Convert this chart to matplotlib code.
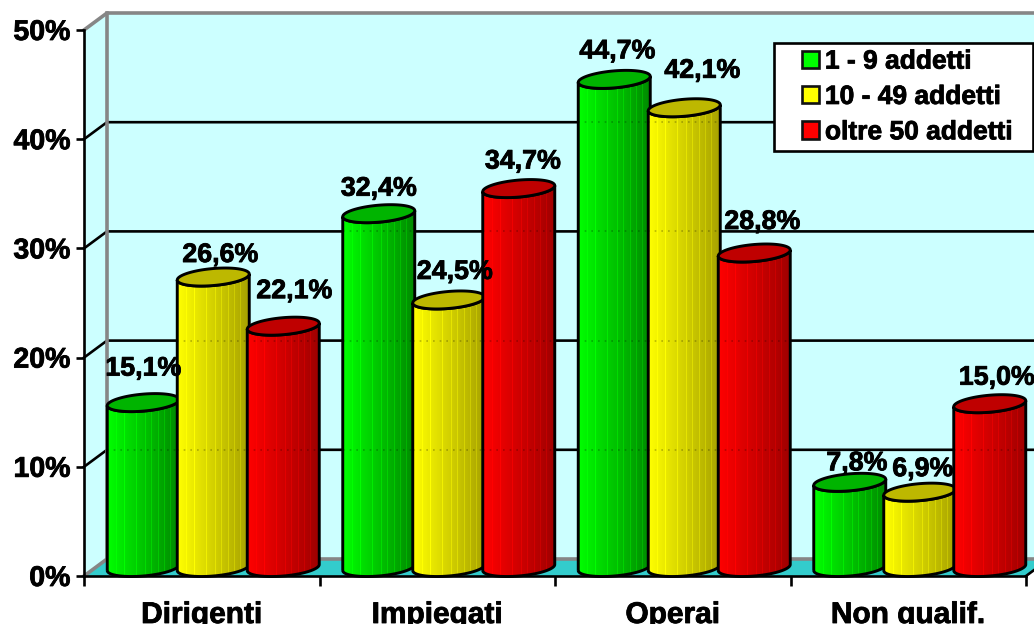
import numpy as np
import matplotlib
matplotlib.use("Agg")
import matplotlib.pyplot as plt
import matplotlib.patheffects as pe
from matplotlib.colors import LinearSegmentedColormap
from matplotlib.legend_handler import HandlerPatch
from matplotlib.patches import Patch, PathPatch, Polygon, Rectangle
from matplotlib.path import Path

plt.rcParams["font.family"] = ["Liberation Sans", "DejaVu Sans"]
plt.rcParams["font.weight"] = "bold"

categories = ["Dirigenti", "Impiegati", "Operai", "Non qualif."]
series_names = ["1 - 9 addetti", "10 - 49 addetti", "oltre 50 addetti"]
small = [15.1, 32.4, 44.7, 7.8]
medium = [26.6, 24.5, 42.1, 6.9]
large = [22.1, 34.7, 28.8, 15.0]
small_text = ["15,1%", "32,4%", "44,7%", "7,8%"]
medium_text = ["26,6%", "24,5%", "42,1%", "6,9%"]
large_text = ["22,1%", "34,7%", "28,8%", "15,0%"]
y_ticks = [0, 10, 20, 30, 40, 50]

# pixel offsets of the value labels from the top of each cylinder
label_dx = [[0, 0, 3, 7], [7, 6, 18, 3], [11, 4, 8, 7]]
label_dy = [[34, 25, 28, 19], [22, 28, 37, 23], [35, 27, 31, 26]]

colors = [("#00FF00", "#008A00", "#00B400"),
          ("#FFFF00", "#A8A300", "#BDB800"),
          ("#FF0000", "#A00000", "#BF0000")]
legend_colors = ["#00FF00", "#FFFF00", "#FF0000"]

W, H = 1034, 624
x0, y0 = 84, 576
px_x = 235.5        # pixels per category
px_y = 10.92        # pixels per percent
depth_x = 23 / px_x
depth_y = 17 / px_y
half_w = 36 / px_x
step = 70 / px_x
ell_b = 8.5 / px_y
ell_s = 3 / px_y
heavy = [pe.withStroke(linewidth=0.6, foreground="black")]

fig = plt.figure(figsize=(W / 100, H / 100), dpi=100)
ax = fig.add_axes([x0 / W, (H - y0) / H, (W - x0) / W, 546 / H])
ax.patch.set_visible(False)
xmax = (W - x0) / px_x

# walls and floor
wall = "#CCFFFF"
ax.add_patch(Polygon([(depth_x, depth_y), (xmax + 1, depth_y), (xmax + 1, 50 + depth_y), (depth_x, 50 + depth_y)],
                     fc=wall, ec="none", clip_on=False, zorder=0))
ax.add_patch(Polygon([(0, 0), (depth_x, depth_y), (depth_x, 50 + depth_y), (0, 50)],
                     fc=wall, ec="none", clip_on=False, zorder=0))
ax.add_patch(Polygon([(0, 0), (depth_x, depth_y), (4 + depth_x, depth_y), (4, 0)],
                     fc="#33CCCC", ec="none", clip_on=False, zorder=1))
for t in y_ticks[1:-1]:
    ax.plot([0, depth_x, xmax], [t, t + depth_y, t + depth_y], color="k", lw=1.9, zorder=1, clip_on=False,
            solid_joinstyle="miter")
gray = "#868686"
ax.plot([0, depth_x, xmax], [50, 50 + depth_y, 50 + depth_y], color=gray, lw=2.6, zorder=2, clip_on=False)
ax.plot([depth_x, depth_x], [depth_y, 50 + depth_y], color=gray, lw=2.6, zorder=2, clip_on=False)
ax.plot([0, depth_x, xmax], [0, depth_y, depth_y], color=gray, lw=2.6, zorder=2, clip_on=False)
ax.plot([4, 4 + depth_x], [0, depth_y], color="k", lw=1.9, zorder=2, clip_on=False)


def cylinder(cx, top, shades, z):
    base = depth_y / 2
    t = np.linspace(np.pi, 2 * np.pi, 60)
    ex = cx + half_w * np.cos(t)
    front = ell_b * np.sin(t) + ell_s * np.cos(t)
    low = np.column_stack([ex, base + front])
    high = np.column_stack([ex[::-1], top + front[::-1]])
    verts = np.vstack([low, high, low[:1]])
    body = Path(verts)
    cmap = LinearSegmentedColormap.from_list("c", [shades[0], shades[1]])
    shade = np.linspace(0, 1, 72)
    shade[[9, 17, 29, 38, 44, 51, 57, 63]] -= 0.25
    img = ax.imshow(np.clip(shade, 0, 1)[None, :], cmap=cmap, vmin=0, vmax=1, aspect="auto",
                    interpolation="nearest", extent=(cx - half_w, cx + half_w, 0, top + 2), zorder=z, clip_on=True)
    outline = PathPatch(body, fc="none", ec="k", lw=2.1, zorder=z + 0.2, clip_on=False)
    ax.add_patch(outline)
    img.set_clip_path(outline)
    for level in y_ticks[1:-1]:
        if level + depth_y < top:
            line, = ax.plot([cx - half_w, cx + half_w], [level + depth_y] * 2, color="k", lw=1.2, alpha=0.25,
                            ls=(0, (1, 3)), zorder=z + 0.1, clip_on=True)
            line.set_clip_path(outline)
    t2 = np.linspace(0, 2 * np.pi, 120)
    lid = np.column_stack([cx + half_w * np.cos(t2), top + ell_b * np.sin(t2) + ell_s * np.cos(t2)])
    ax.add_patch(Polygon(lid, fc=shades[2], ec="k", lw=2.1, zorder=z + 0.3, clip_on=False))


values = [small, medium, large]
texts = [small_text, medium_text, large_text]
for s in range(3):
    for c in range(4):
        cx = c + 0.5 + depth_x / 2 + (s - 1) * step
        top = values[s][c] + depth_y / 2
        cylinder(cx, top, colors[s], 3 + c * 3 + s)
        ax.annotate(texts[s][c], (cx, top), xytext=(label_dx[s][c] * 0.72, label_dy[s][c] * 0.72),
                    textcoords="offset points", ha="center", va="center", fontsize=19.3,
                    fontweight="bold", color="#000000", zorder=30, annotation_clip=False, path_effects=heavy)

ax.set_xlim(0, xmax)
ax.set_ylim(0, 50)
ax.set_yticks(y_ticks)
ax.set_yticklabels([f"{t}%" for t in y_ticks], fontsize=20.5, fontweight="bold", path_effects=heavy)
ax.set_xticks(range(5))
ax.set_xticklabels([])
ax.set_xticks(np.arange(4) + 0.5, categories, minor=True, fontsize=21.5, fontweight="bold", path_effects=heavy)
ax.tick_params(axis="y", length=5.8, width=1.9, pad=4)
ax.tick_params(axis="x", which="major", length=7, width=1.9)
ax.tick_params(axis="x", which="minor", length=0, pad=18)
ax.spines[["top", "right"]].set_visible(False)
ax.spines["left"].set_linewidth(1.9)
ax.spines["bottom"].set_linewidth(1.9)
ax.spines["bottom"].set_bounds(0, 4)
ax.set_axisbelow(False)


def square(legend, orig_handle, xdescent, ydescent, width, height, fontsize):
    return Rectangle((15.5, 0.5), 12.5, 12.5)


handles = [Patch(fc=c, ec="#111111", lw=1.9) for c in legend_colors]
leg = ax.legend(handles, series_names, loc="upper left",
                bbox_to_anchor=(774 / W, 1 - 152 / H, 259 / W, 109 / H), bbox_transform=fig.transFigure,
                mode="expand", borderaxespad=0, fancybox=False, framealpha=1, edgecolor="k", facecolor="white",
                fontsize=19, borderpad=0.25, labelspacing=0.43, handlelength=1.6, handletextpad=0.08,
                handler_map={Patch: HandlerPatch(patch_func=square)})
leg.get_frame().set_linewidth(1.9)
leg.set_zorder(40)
for txt in leg.get_texts():
    txt.set_path_effects(heavy)

fig.savefig("out.png", dpi=100)
